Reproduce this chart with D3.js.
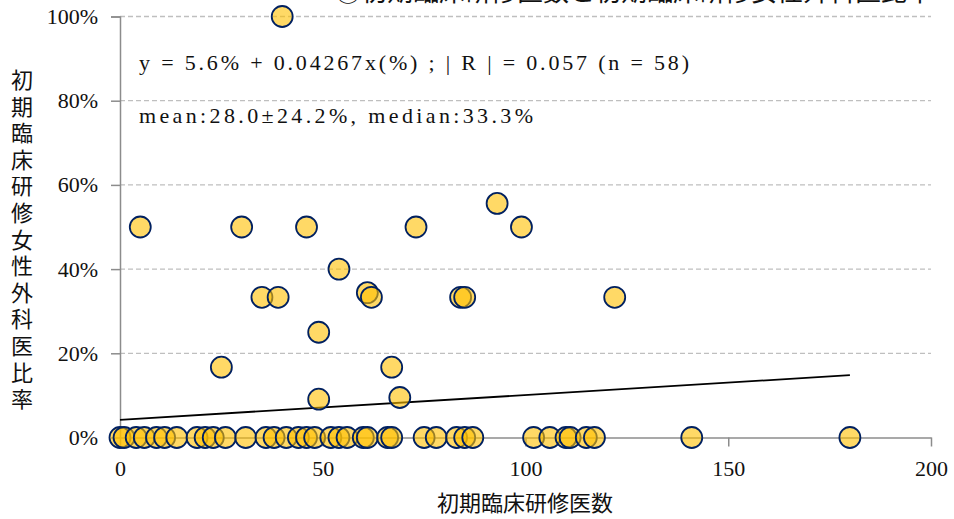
<!DOCTYPE html>
<html>
<head>
<meta charset="utf-8">
<script src="https://cdn.jsdelivr.net/npm/d3@7"></script>
<style>
  body { margin: 0; background: #fff; }
  text { font-family: "Liberation Serif", "Noto Sans CJK JP", serif; fill: #111; }
</style>
</head>
<body>
<div id="chart"></div>
<script>
const width = 954
const height = 519

// non-zero points
const ratioX = [40, 5, 30, 46, 73, 99, 93, 54, 35, 39, 61, 62, 84, 85, 122, 49, 25, 67, 49, 69]
const ratioY = [100, 50, 50, 50, 50, 50, 55.6, 40, 33.3, 33.3, 34.4, 33.3, 33.3, 33.3, 33.3, 25, 16.7, 16.7, 9.1, 9.5]
// programs with 0%
const zeroX = [0, 1, 4, 6, 9, 11, 14, 19, 21, 23, 26, 31, 36, 38, 41, 44, 46, 48, 52, 54, 56, 60, 61, 66, 67, 75, 78, 83, 85, 87, 102, 106, 110, 111, 115, 117, 141, 180]

const trendX = [0, 180]
const trendY = [4.2, 14.8]

const xTicks = [0, 50, 100, 150, 200]
const yTicks = [0, 20, 40, 60, 80, 100]

const eqText = "y = 5.6% + 0.04267x(%) ;  | R | = 0.057 (n = 58)"
const statText = "mean:28.0±24.2%, median:33.3%"
const xTitle = "初期臨床研修医数"
const yTitle = "初期臨床研修女性外科医比率"
const title = "③初期臨床研修医数と初期臨床研修女性外科医比率"

const points = ratioX.map((x, i) => ({x: x, y: ratioY[i]}))
  .concat(zeroX.map(x => ({x: x, y: 0})))

const svg = d3.select("#chart").append("svg")
  .attr("width", width)
  .attr("height", height)

const x = d3.scaleLinear().domain([0, 200]).range([120, 931])
const y = d3.scaleLinear().domain([0, 100]).range([437.5, 16.5])

// title (mostly cropped at the top)
svg.append("text")
  .attr("x", 335).attr("y", 1)
  .style("font-size", "26px")
  .style("font-family", "'Noto Sans CJK JP', sans-serif")
  .text(title)

// gridlines
svg.append("g").selectAll("line")
  .data(yTicks.filter(d => d > 0))
  .join("line")
  .attr("x1", x(0)).attr("x2", x(200))
  .attr("y1", d => y(d)).attr("y2", d => y(d))
  .attr("stroke", "#bfbfbf")
  .attr("stroke-width", 1.3)
  .attr("stroke-dasharray", "5,3")

// y axis
const yAxis = svg.append("g")
  .attr("transform", `translate(${x(0)},0)`)
  .call(d3.axisLeft(y).tickValues(yTicks).tickFormat(d => d + "%").tickSize(9).tickPadding(13))
yAxis.select(".domain").attr("stroke", "#8c8c8c").attr("stroke-width", 1.5)
yAxis.selectAll(".tick line").attr("stroke", "#8c8c8c").attr("stroke-width", 1.5)
yAxis.selectAll(".tick text")
  .style("font-size", "22px")
  .style("font-family", "'Liberation Serif', serif")
  .attr("fill", "#111")
yAxis.selectAll(".tick").filter(d => d === 0).select("line").remove()

// x axis
const xAxis = svg.append("g")
  .attr("transform", `translate(0,${y(0)})`)
  .call(d3.axisBottom(x).tickValues(xTicks).tickSize(9).tickSizeOuter(0).tickPadding(14))
xAxis.select(".domain").attr("stroke", "#8c8c8c").attr("stroke-width", 1.5)
xAxis.selectAll(".tick line").attr("stroke", "#8c8c8c").attr("stroke-width", 1.5)
xAxis.selectAll(".tick text")
  .style("font-size", "22px")
  .style("font-family", "'Liberation Serif', serif")
  .attr("fill", "#111")

// trend line
svg.append("line")
  .attr("x1", x(trendX[0])).attr("y1", y(trendY[0]))
  .attr("x2", x(trendX[1])).attr("y2", y(trendY[1]))
  .attr("stroke", "#000")
  .attr("stroke-width", 1.8)

// points
svg.append("g").selectAll("circle")
  .data(points)
  .join("circle")
  .attr("cx", d => x(d.x))
  .attr("cy", d => y(d.y))
  .attr("r", 10.5)
  .attr("fill", "rgba(255,192,0,0.6)")
  .attr("stroke", "#002060")
  .attr("stroke-width", 1.8)

// annotations
svg.append("text")
  .attr("x", 139).attr("y", 70)
  .attr("textLength", 550)
  .attr("lengthAdjust", "spacing")
  .style("font-size", "22px")
  .text(eqText)
svg.append("text")
  .attr("x", 139).attr("y", 123)
  .attr("textLength", 394)
  .attr("lengthAdjust", "spacing")
  .style("font-size", "22px")
  .text(statText)

// axis titles
svg.append("text")
  .attr("x", 525).attr("y", 511)
  .attr("text-anchor", "middle")
  .style("font-size", "22px")
  .style("font-family", "'Noto Sans CJK JP', sans-serif")
  .attr("fill", "#333")
  .text(xTitle)

svg.append("g").selectAll("text")
  .data(Array.from(yTitle))
  .join("text")
  .attr("x", 22)
  .attr("y", (d, i) => 78 + i * 26.6)
  .attr("text-anchor", "middle")
  .attr("dominant-baseline", "central")
  .style("font-size", "22px")
  .style("font-family", "'Noto Sans CJK JP', sans-serif")
  .attr("fill", "#333")
  .text(d => d)
</script>
</body>
</html>
